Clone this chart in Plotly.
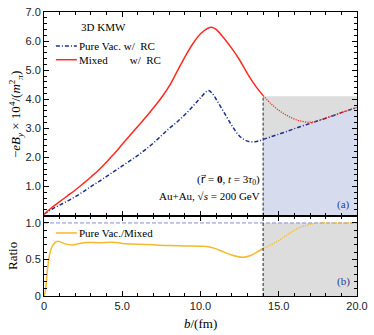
import plotly.graph_objects as go
from plotly.subplots import make_subplots

# impact parameter b (fm)
b_main = [0, 0.5, 1.0, 1.5, 2.0, 2.5, 3.0, 3.5, 4.0, 4.5, 5.0, 5.5, 6.0, 6.5, 7.0, 7.5,
          8.0, 8.5, 9.0, 9.5, 10.0, 10.5, 10.75, 11.0, 11.5, 12.0, 12.5, 13.0, 13.5, 14.0]
# Mixed w/ RC (b <= 14)
mixed_main = [0.05, 0.28, 0.48, 0.68, 0.88, 1.10, 1.33, 1.57, 1.84, 2.14, 2.45, 2.76, 3.07, 3.38, 3.71, 4.05,
              4.45, 4.95, 5.45, 5.90, 6.25, 6.45, 6.47, 6.40, 6.10, 5.75, 5.35, 4.88, 4.47, 4.13]
# Pure Vac. w/ RC (b <= 14)
vac_main = [0.05, 0.22, 0.36, 0.50, 0.65, 0.82, 1.00, 1.17, 1.35, 1.53, 1.71, 1.89, 2.07, 2.28, 2.50, 2.75,
            3.00, 3.22, 3.47, 3.75, 4.05, 4.30, 4.20, 4.00, 3.55, 3.10, 2.73, 2.56, 2.54, 2.62]

# b >= 14 (extrapolated region)
b_ext = [14.0, 14.5, 15.0, 15.5, 16.0, 16.5, 17.0, 17.5, 18.0, 18.5, 19.0, 19.5, 20.0]
mixed_ext = [4.13, 3.85, 3.62, 3.45, 3.32, 3.24, 3.21, 3.26, 3.35, 3.44, 3.54, 3.63, 3.72]
vac_ext = [2.62, 2.71, 2.80, 2.89, 2.99, 3.08, 3.17, 3.26, 3.35, 3.44, 3.54, 3.63, 3.72]

# ratio Pure Vac./Mixed
b_ratio = [0, 0.1, 0.2, 0.35, 0.5, 0.7, 0.9, 1.4, 1.9, 2.5, 3.5, 4.4, 5.0, 6.0, 7.0, 8.0,
           9.0, 10.0, 10.5, 11.0, 11.5, 12.0, 12.7, 13.2, 13.6, 14.0]
ratio = [0.0, 0.08, 0.32, 0.56, 0.67, 0.73, 0.75, 0.71, 0.70, 0.73, 0.73, 0.735, 0.72, 0.71, 0.70, 0.69,
         0.685, 0.68, 0.675, 0.645, 0.60, 0.56, 0.53, 0.555, 0.60, 0.65]
b_ratio_ext = [14.0, 14.5, 15.0, 15.5, 16.0, 16.5, 17.0, 17.5, 18.0, 20.0]
ratio_ext = [0.65, 0.70, 0.76, 0.83, 0.90, 0.95, 0.98, 1.0, 1.0, 1.0]

b_cut = 14.0
b_max = 20.0
box_top = 4.1

RED = "#ff2a1f"
BLUE = "#1c2f8c"
ORANGE = "#f4b92c"
GRAY = "#dddddd"
LAVENDER = "#d7dbee"
SERIF = "Liberation Serif, Times New Roman, serif"
SANS = "Liberation Sans, Arial, sans-serif"
DASHDOT = "4px,2px,1px,2px"
DOTTED = "1.2px,1.2px"

fig = make_subplots(rows=2, cols=1, shared_xaxes=True, vertical_spacing=0,
                    row_heights=[0.717, 0.283])

# shaded regions, top panel
fig.add_trace(go.Scatter(x=[b_cut, b_max], y=[box_top, box_top], mode="lines", line=dict(width=0),
                         fill="tozeroy", fillcolor=GRAY, hoverinfo="skip"), row=1, col=1)
fig.add_trace(go.Scatter(x=b_ext, y=vac_ext, mode="lines", line=dict(width=0),
                         fill="tozeroy", fillcolor=LAVENDER, hoverinfo="skip"), row=1, col=1)
# shaded region, ratio panel
fig.add_trace(go.Scatter(x=[b_cut, b_max], y=[1.0, 1.0], mode="lines", line=dict(width=0),
                         fill="tozeroy", fillcolor=GRAY, hoverinfo="skip"), row=2, col=1)

# curves, top panel
fig.add_trace(go.Scatter(x=b_main, y=vac_main, mode="lines", line_shape="spline",
                         line=dict(color=BLUE, width=1.5, dash=DASHDOT)), row=1, col=1)
fig.add_trace(go.Scatter(x=b_ext, y=vac_ext, mode="lines", line_shape="spline",
                         line=dict(color=BLUE, width=1.5, dash=DASHDOT)), row=1, col=1)
fig.add_trace(go.Scatter(x=b_main, y=mixed_main, mode="lines", line_shape="spline",
                         line=dict(color=RED, width=1.5)), row=1, col=1)
fig.add_trace(go.Scatter(x=b_ext, y=mixed_ext, mode="lines", line_shape="spline",
                         line=dict(color=RED, width=1.3, dash=DOTTED)), row=1, col=1)

# ratio panel
fig.add_trace(go.Scatter(x=[0, b_max], y=[1.0, 1.0], mode="lines",
                         line=dict(color="#7f8fcc", width=1, dash="4px,2px")), row=2, col=1)
fig.add_trace(go.Scatter(x=b_ratio, y=ratio, mode="lines", line_shape="spline",
                         line=dict(color=ORANGE, width=1.5)), row=2, col=1)
fig.add_trace(go.Scatter(x=b_ratio_ext, y=ratio_ext, mode="lines", line_shape="spline",
                         line=dict(color=ORANGE, width=1.3, dash=DOTTED)), row=2, col=1)

# vertical dashed line at b = 14
fig.add_shape(type="line", x0=b_cut, x1=b_cut, y0=0, y1=box_top, xref="x", yref="y",
              line=dict(color="#222222", width=1, dash="3px,2px"))
fig.add_shape(type="line", x0=b_cut, x1=b_cut, y0=0, y1=1.1, xref="x2", yref="y2",
              line=dict(color="#222222", width=1, dash="3px,2px"))

axis_common = dict(showline=True, linecolor="black", linewidth=1, mirror="ticks",
                   ticks="inside", ticklen=5, tickcolor="black", showgrid=False, zeroline=False,
                   tickfont=dict(family=SANS, size=11, color="#222222"))

fig.update_xaxes(range=[0, b_max], tickvals=[0, 5, 10, 15, 20], **axis_common,
                 minor=dict(ticks="inside", dtick=1, ticklen=3, tickcolor="black"))
fig.update_xaxes(showticklabels=False, row=1, col=1)
fig.update_xaxes(ticktext=["0", "5.0", "10.0", "15.0", "20.0"], row=2, col=1)

fig.update_yaxes(range=[0, 7], tickvals=[1, 2, 3, 4, 5, 6, 7],
                 ticktext=["1.0", "2.0", "3.0", "4.0", "5.0", "6.0", "7.0"],
                 minor=dict(ticks="inside", dtick=0.2, ticklen=3, tickcolor="black"),
                 **axis_common, row=1, col=1)
fig.update_yaxes(range=[0, 1.1], tickvals=[0, 0.5, 1.0], ticktext=["0", "0.5", "1.0"],
                 minor=dict(ticks="inside", dtick=0.1, ticklen=3, tickcolor="black"),
                 **axis_common, row=2, col=1)

txt = dict(family=SERIF, size=11, color="black")
ann = []
# axis titles
ann.append(dict(text="−<i>eB</i><sub><i>y</i></sub> × 10<sup>4</sup>/(<i>m</i><sup>2</sup><sub><i>π</i></sub>)",
                x=-0.09, y=0.64, xref="paper", yref="paper", textangle=-90, showarrow=False,
                xanchor="center", yanchor="middle", font=dict(family=SERIF, size=13, color="black")))
ann.append(dict(text="Ratio", x=-0.1, y=0.14, xref="paper", yref="paper", textangle=-90,
                xanchor="center", yanchor="middle", showarrow=False,
                font=dict(family=SERIF, size=13, color="black")))
ann.append(dict(text="<i>b</i>/(fm)", x=0.5, y=-0.098, xref="paper", yref="paper",
                xanchor="center", yanchor="middle", showarrow=False,
                font=dict(family=SERIF, size=13, color="black")))
# legend texts
ann.append(dict(text="3D KMW", x=0.112, y=0.947, xref="paper", yref="paper", xanchor="left",
                yanchor="middle", showarrow=False, font=txt))
ann.append(dict(text="Pure Vac. w/\u00a0 RC", x=0.105, y=0.88, xref="paper", yref="paper",
                xanchor="left", yanchor="middle", showarrow=False, font=txt))
ann.append(dict(text="Mixed\u00a0\u00a0\u00a0\u00a0\u00a0\u00a0\u00a0 w/\u00a0 RC", x=0.105, y=0.832,
                xref="paper", yref="paper", xanchor="left", yanchor="middle", showarrow=False,
                font=txt))
ann.append(dict(text="Pure Vac./Mixed", x=0.105, y=0.222, xref="paper", yref="paper",
                xanchor="left", yanchor="middle", showarrow=False, font=txt))
ann.append(dict(text="(<span style='font-family:DejaVu Sans'>r\u20d7</span> = <b>0</b>, <i>t</i> = 3<i>τ</i><sub>0</sub>)",
                x=0.695, y=0.41, xref="paper", yref="paper", xanchor="right", yanchor="middle",
                showarrow=False, font=txt))
ann.append(dict(text="Au+Au, √<i>s</i> = 200 GeV",
                x=0.695, y=0.352, xref="paper", yref="paper", xanchor="right", yanchor="middle",
                showarrow=False, font=txt))
ann.append(dict(text="(a)", x=0.985, y=0.322, xref="paper", yref="paper", xanchor="right",
                yanchor="middle", showarrow=False, font=dict(family=SERIF, size=11, color="#2a3a9a")))
ann.append(dict(text="(b)", x=0.985, y=0.052, xref="paper", yref="paper", xanchor="right",
                yanchor="middle", showarrow=False, font=dict(family=SERIF, size=11, color="#2a3a9a")))

# legend line samples
fig.add_shape(type="line", xref="paper", yref="paper", x0=0.038, x1=0.105, y0=0.88, y1=0.88,
              line=dict(color=BLUE, width=1.5, dash=DASHDOT))
fig.add_shape(type="line", xref="paper", yref="paper", x0=0.038, x1=0.105, y0=0.832, y1=0.832,
              line=dict(color=RED, width=1.5))
fig.add_shape(type="line", xref="paper", yref="paper", x0=0.038, x1=0.105, y0=0.222, y1=0.222,
              line=dict(color=ORANGE, width=1.5))

fig.update_layout(width=374, height=335, margin=dict(l=44, r=14, t=6, b=39),
                  plot_bgcolor="white", paper_bgcolor="white", showlegend=False,
                  annotations=ann)

fig.write_html("out.html", config={"displayModeBar": False},
               post_script="document.body.style.margin='0';")
